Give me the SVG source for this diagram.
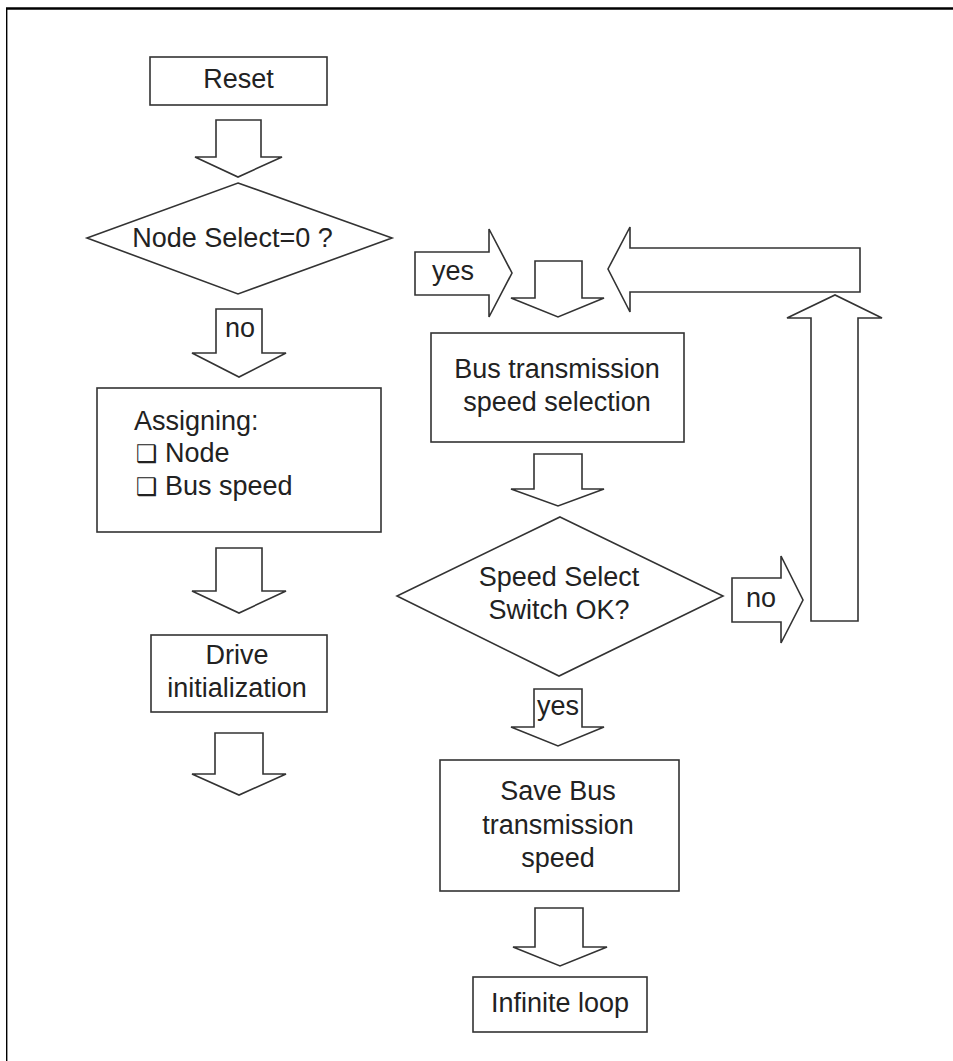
<svg xmlns="http://www.w3.org/2000/svg" width="953" height="1061" viewBox="0 0 953 1061">
  <style>
    .frame { stroke: #000; fill: none; }
    .box { fill: #fff; stroke: #333; stroke-width: 1.6; }
    .arrow { fill: #fff; stroke: #333; stroke-width: 1.6; stroke-linejoin: miter; }
    .t { font-family: "Liberation Sans", Arial, sans-serif; font-size: 27px; fill: #222; }
    .c { text-anchor: middle; }
    .chk { font-family: "DejaVu Sans", sans-serif; font-size: 24px; }
  </style>

  <rect width="953" height="1061" fill="#fff"/>

  <!-- page frame: top and left edges only -->
  <line class="frame" x1="6" y1="8.5" x2="953" y2="8.5" stroke-width="2.4"/>
  <line class="frame" x1="6.7" y1="8" x2="6.7" y2="1061" stroke-width="1.4"/>

  <!-- block-arrow connectors -->
  <g id="connectors">
    <polygon class="arrow" points="216,120 261,120 261,157 282,157 238,177 195,157 216,157"/>
    <polygon class="arrow" points="216,309 262,309 262,353 286,353 239,377 192,353 216,353"/>
    <polygon class="arrow" points="216,548 262,548 262,591 286,591 239,613 192,591 216,591"/>
    <polygon class="arrow" points="215,733 263,733 263,774 286,774 239,795 192,774 215,774"/>
    <polygon class="arrow" points="415,252 489,252 489,229 512,273 489,317 489,295 415,295"/>
    <polygon class="arrow" points="535,261 582,261 582,298 604,298 558,317 511,298 535,298"/>
    <polygon class="arrow" points="860,248 630,248 630,227 608,269 630,312 630,292 860,292"/>
    <polygon class="arrow" points="811,621 811,318 787,318 835,295 882,318 858,318 858,621"/>
    <polygon class="arrow" points="534,454 582,454 582,489 604,489 558,506 511,489 534,489"/>
    <polygon class="arrow" points="732,578 781,578 781,556 803,600 781,643 781,622 732,622"/>
    <polygon class="arrow" points="534,689 582,689 582,727 604,727 558,746 511,727 534,727"/>
    <polygon class="arrow" points="535,908 583,908 583,947 607,947 560,966 513,947 535,947"/>
    <text class="t" x="432" y="280" font-size="26">yes</text>
    <text class="t c" x="240" y="337" font-size="26">no</text>
    <text class="t" x="746" y="607" font-size="26">no</text>
    <text class="t c" x="558" y="715">yes</text>
  </g>

  <g id="reset">
    <rect class="box" x="150" y="57" width="177" height="48"/>
    <text class="t c" x="238.5" y="88" font-size="26">Reset</text>
  </g>

  <g id="node-select">
    <polygon class="box" points="238,183 392,238 238,294 87,238"/>
    <text class="t c" x="232.5" y="247" font-size="24">Node Select=0 ?</text>
  </g>

  <g id="assigning">
    <rect class="box" x="97" y="388" width="284" height="144"/>
    <text class="t" x="134" y="430">Assigning:</text>
    <text class="t" x="136" y="462"><tspan class="chk">❑</tspan> Node</text>
    <text class="t" x="136" y="495"><tspan class="chk">❑</tspan> Bus speed</text>
  </g>

  <g id="drive-init">
    <rect class="box" x="151" y="635" width="176" height="77"/>
    <text class="t c" x="237" y="664">Drive</text>
    <text class="t c" x="237" y="697">initialization</text>
  </g>

  <g id="bus-speed-selection">
    <rect class="box" x="431" y="333" width="253" height="109"/>
    <text class="t c" x="557" y="378">Bus transmission</text>
    <text class="t c" x="557" y="411">speed selection</text>
  </g>

  <g id="speed-switch">
    <polygon class="box" points="560,517 723,596 559,676 397,596"/>
    <text class="t c" x="559" y="586">Speed Select</text>
    <text class="t c" x="559" y="619">Switch OK?</text>
  </g>

  <g id="save-speed">
    <rect class="box" x="440" y="760" width="239" height="131"/>
    <text class="t c" x="558" y="800">Save Bus</text>
    <text class="t c" x="558" y="834">transmission</text>
    <text class="t c" x="558" y="867">speed</text>
  </g>

  <g id="infinite-loop">
    <rect class="box" x="473" y="977" width="174" height="55"/>
    <text class="t c" x="560" y="1012">Infinite loop</text>
  </g>
</svg>
